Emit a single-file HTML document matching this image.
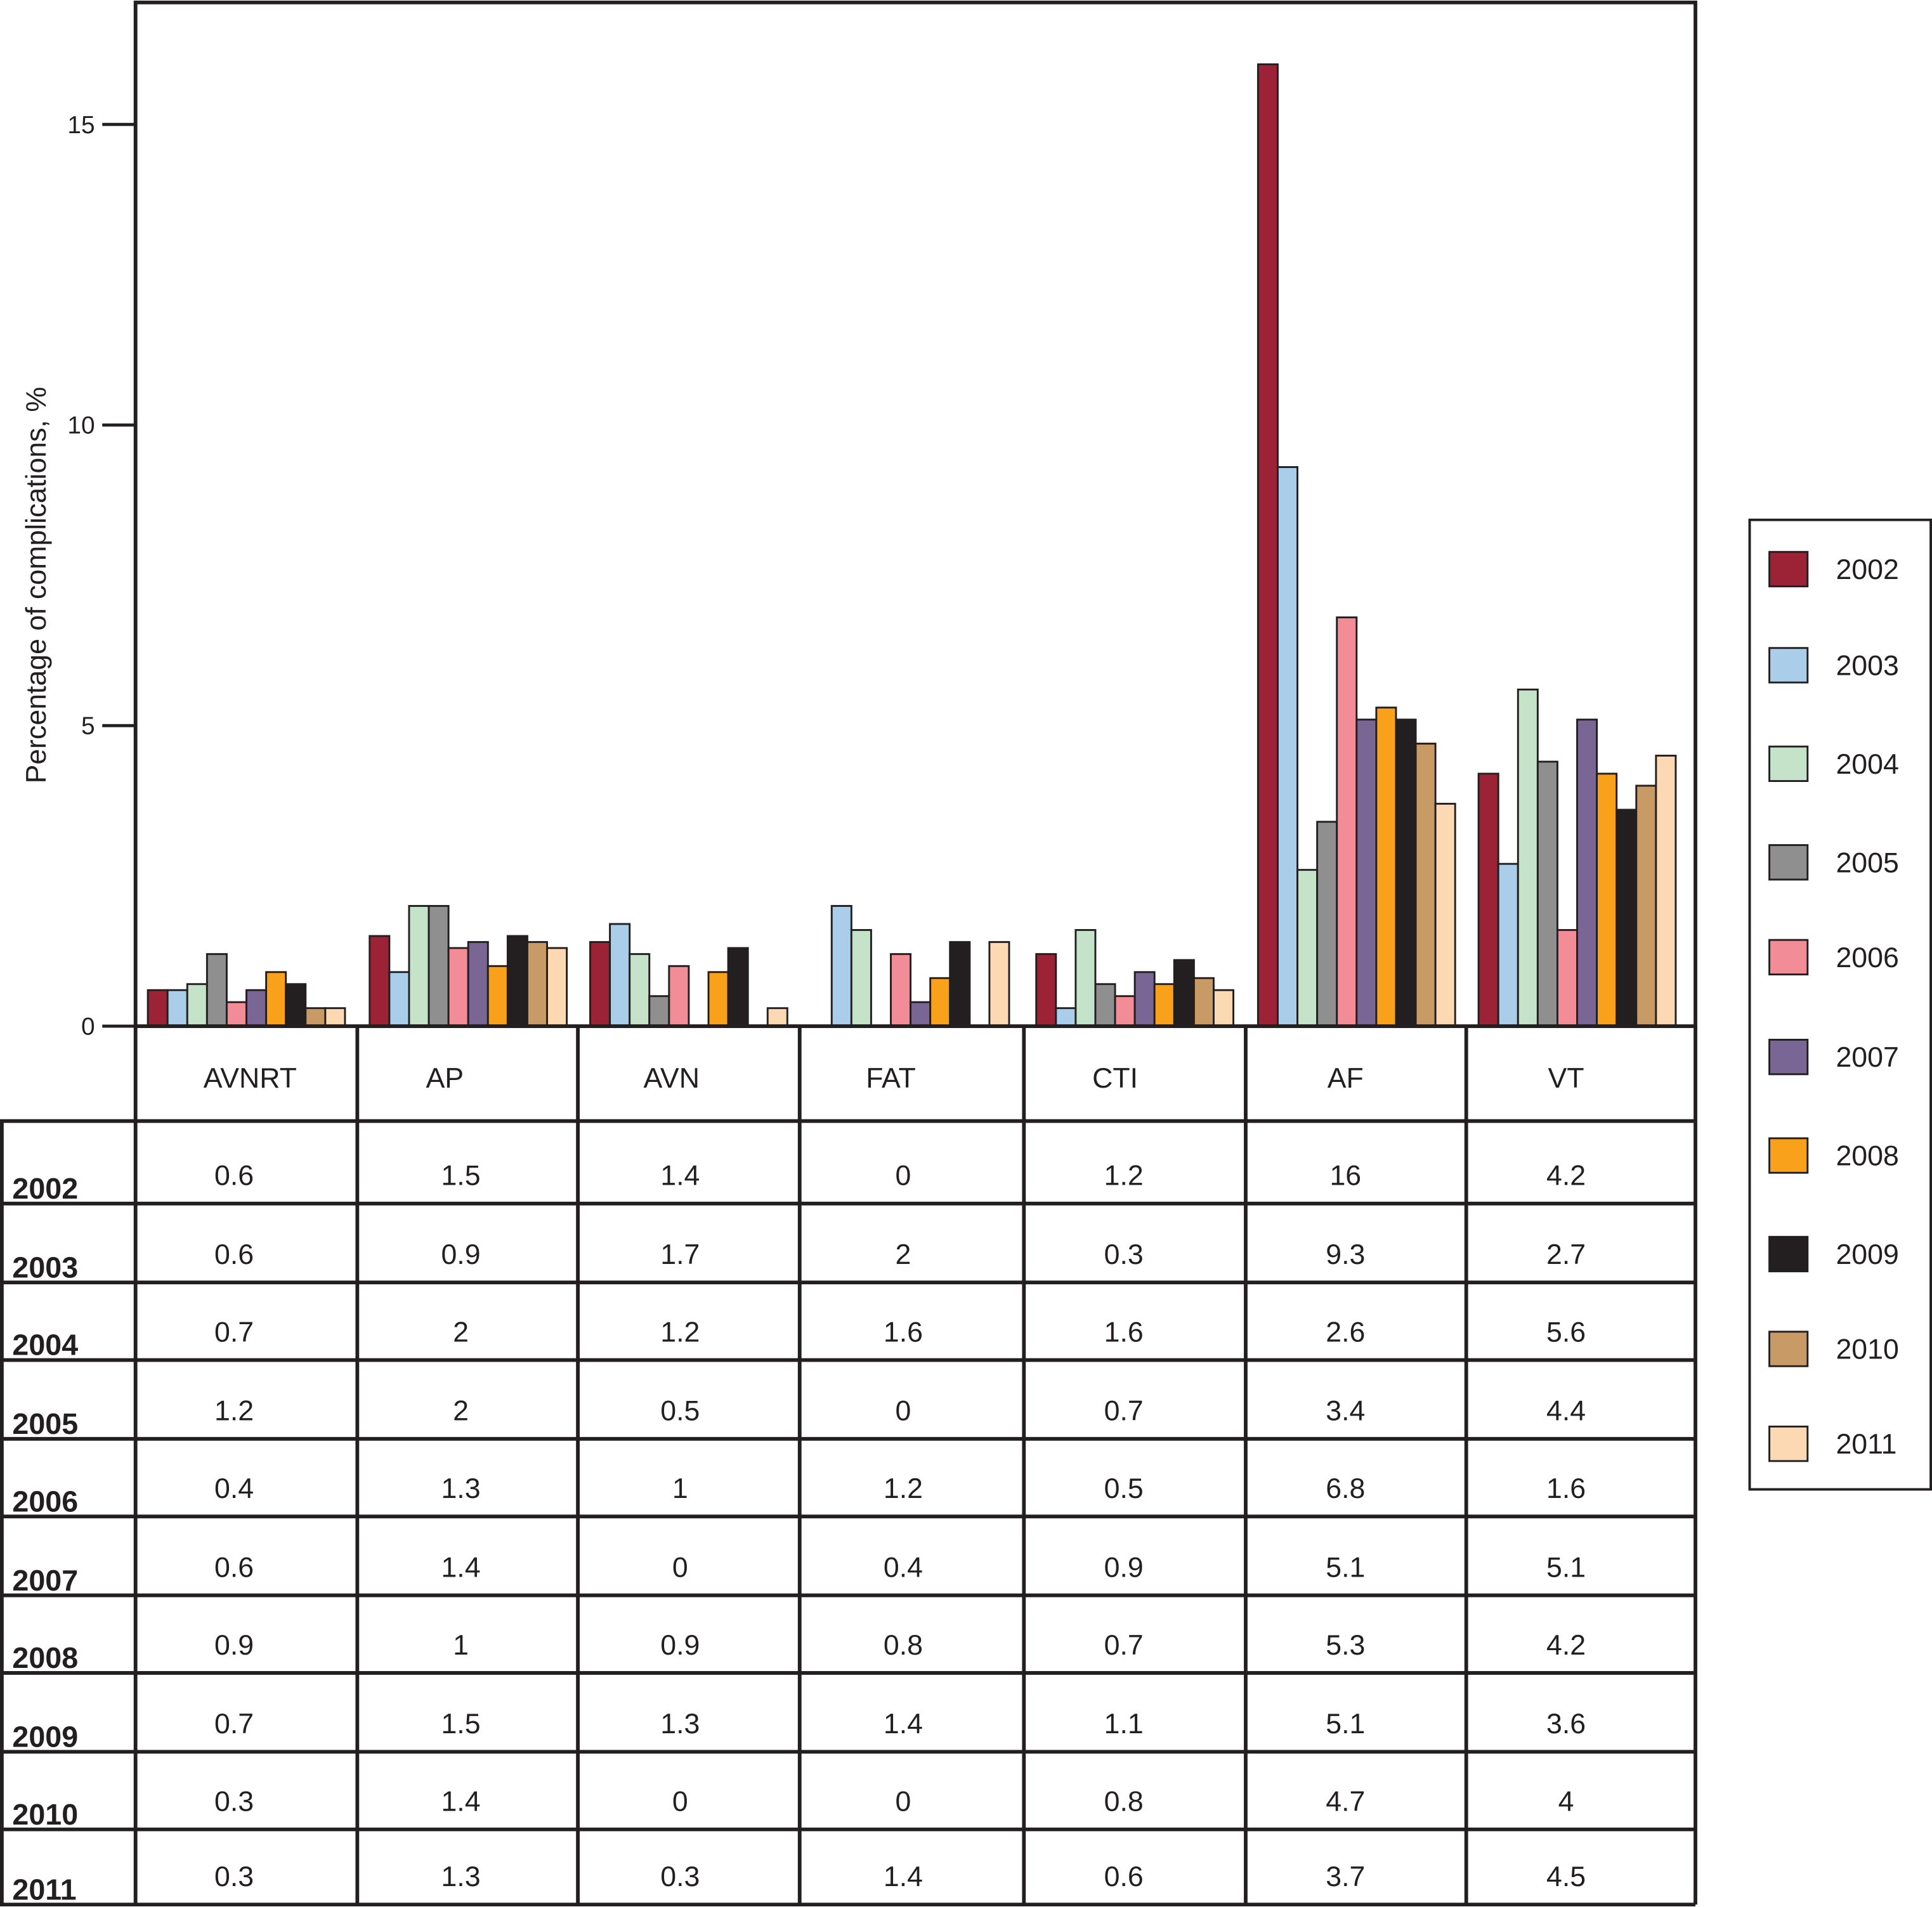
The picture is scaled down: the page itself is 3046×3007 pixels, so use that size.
<!DOCTYPE html>
<html><head><meta charset="utf-8">
<style>
html,body{margin:0;padding:0;background:#fff;}
svg{display:block;}
text{font-family:"Liberation Sans",Arial,sans-serif;fill:#231f20;}
</style></head>
<body>
<svg id="chart" width="3046" height="3007" viewBox="0 0 1568 1548" preserveAspectRatio="none" xmlns="http://www.w3.org/2000/svg"></svg>
<script>
const categories = ["AVNRT","AP","AVN","FAT","CTI","AF","VT"];
const years = ["2002","2003","2004","2005","2006","2007","2008","2009","2010","2011"];
const colors = ["#9b2335","#aacde9","#c5e3c8","#8f8f8f","#f28d98","#7a6694","#f9a11b","#231f20","#c89a66","#fcd9b3"];
const v2002 = [0.6,1.5,1.4,0,1.2,16,4.2];
const v2003 = [0.6,0.9,1.7,2,0.3,9.3,2.7];
const v2004 = [0.7,2,1.2,1.6,1.6,2.6,5.6];
const v2005 = [1.2,2,0.5,0,0.7,3.4,4.4];
const v2006 = [0.4,1.3,1,1.2,0.5,6.8,1.6];
const v2007 = [0.6,1.4,0,0.4,0.9,5.1,5.1];
const v2008 = [0.9,1,0.9,0.8,0.7,5.3,4.2];
const v2009 = [0.7,1.5,1.3,1.4,1.1,5.1,3.6];
const v2010 = [0.3,1.4,0,0,0.8,4.7,4];
const v2011 = [0.3,1.3,0.3,1.4,0.6,3.7,4.5];
const series = [v2002,v2003,v2004,v2005,v2006,v2007,v2008,v2009,v2010,v2011];
const yTicks = [0,5,10,15];

const NS="http://www.w3.org/2000/svg";
const svg=document.getElementById('chart');
function mk(tag,attrs,parent){const e=document.createElementNS(NS,tag);for(const k in attrs)e.setAttribute(k,attrs[k]);(parent||svg).appendChild(e);return e;}

const colX=[110,290,469,649,831,1011,1190,1376];
const headX=[203,361,545,723,905,1092,1271];
const valX=[190,374,552,733,912,1092,1271];
const plotTop=2, plotBottom=833;
const yScale=v=>plotBottom-(v/15)*(833-101);
const barW=16, barOff=10;

const barsG=mk('g',{});


series.forEach((vals,si)=>{
  vals.forEach((v,ci)=>{
    if(v<=0) return;
    const x=colX[ci]+barOff+si*barW;
    const y=yScale(v);
    const r=mk('rect',{x:x,y:y,width:barW,height:plotBottom-y,fill:colors[si],stroke:'#231f20','stroke-width':1.5},barsG);
    
    
  });
});

const frame=mk('rect',{x:110,y:plotTop,width:1266,height:plotBottom-plotTop,fill:'none',stroke:'#231f20','stroke-width':3});



yTicks.forEach(t=>{
  const y=yScale(t);
  const l=mk('line',{x1:83,x2:110,y1:y,y2:y,stroke:'#231f20','stroke-width':2.5});
  
  
  const tx=mk('text',{x:77,y:y+7,'text-anchor':'end','font-size':20});
  tx.textContent=t;
  
  
});
const yt=mk('text',{x:0,y:0,'text-anchor':'middle','font-size':23,transform:'translate(37,475) rotate(-90)'});
yt.textContent='Percentage of complications, %';



const rowY=[833,910,977,1041,1104,1168,1231,1295,1358,1422,1485,1546];
const tbl=mk('g',{stroke:'#231f20','stroke-width':3,fill:'none'});


colX.forEach((x,i)=>{ mk('line',{x1:x,x2:x,y1:833,y2:1546},tbl); });
mk('line',{x1:1.5,x2:1.5,y1:910,y2:1546},tbl);
rowY.forEach((y,i)=>{ if(i===0) return; mk('line',{x1:0,x2:1376,y1:y,y2:y},tbl); });
categories.forEach((c,ci)=>{
  const t=mk('text',{x:headX[ci],y:883,'text-anchor':'middle','font-size':23});
  t.textContent=c;
  
  
});
series.forEach((vals,si)=>{
  const y1=rowY[si+2];
  const lb=mk('text',{x:10,y:y1-4,'font-size':24,'font-weight':'bold'});
  lb.textContent=years[si];
  
  
  vals.forEach((v,ci)=>{
    const t=mk('text',{x:valX[ci],y:y1-15,'text-anchor':'middle','font-size':23});
    t.textContent=v;
    
    
  });
});

const lg=mk('g',{});


mk('rect',{x:1420,y:422,width:147,height:787,fill:'#fff',stroke:'#231f20','stroke-width':2},lg);
const legY=[462,540,620,700,777,858,938,1018,1095,1172];
years.forEach((yr,i)=>{
  const cy=legY[i];
  const s=mk('rect',{x:1436,y:cy-14,width:31,height:28,fill:colors[i],stroke:'#231f20','stroke-width':1.5},lg);
  
  
  const t=mk('text',{x:1490,y:cy+8,'font-size':23},lg);
  t.textContent=yr;
  
  
});
</script>
</body></html>
